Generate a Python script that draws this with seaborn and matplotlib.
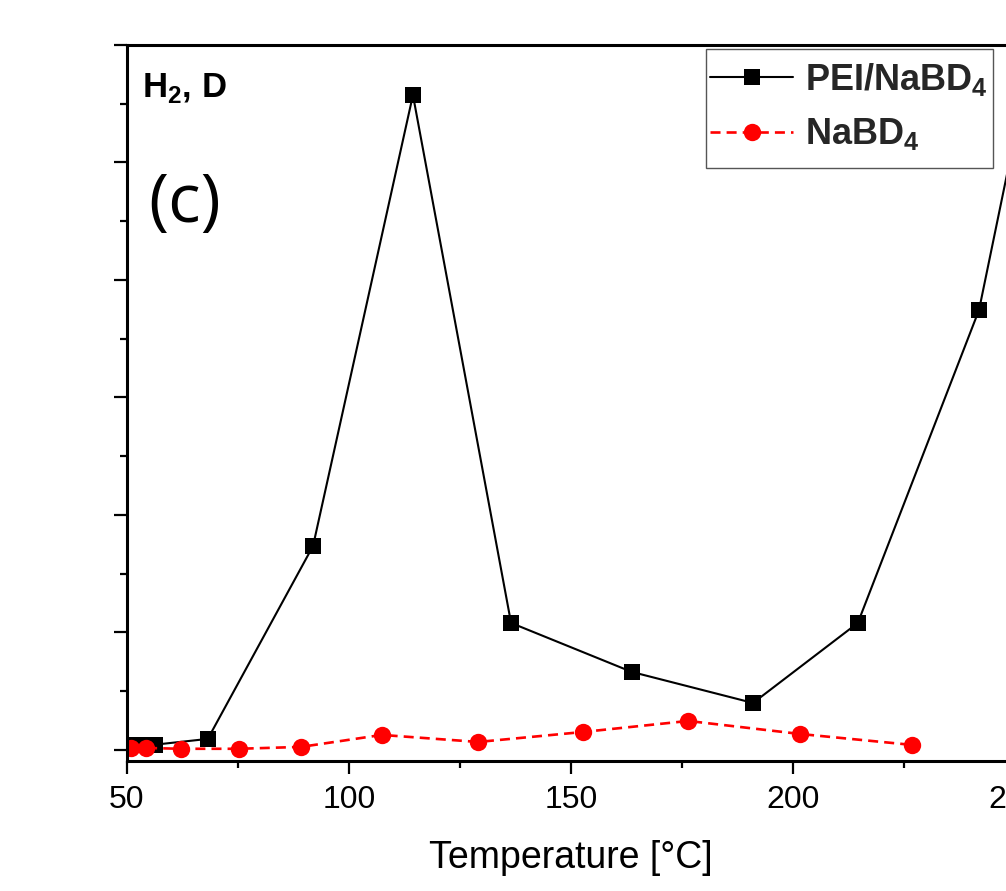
import matplotlib
matplotlib.use("Agg")
import matplotlib.pyplot as plt
from matplotlib.patches import Rectangle
from matplotlib.ticker import MultipleLocator, NullFormatter
import seaborn as sns
import pandas as pd

# Temperature [°C] and relative H2/D signal for each sample
pei_temp = [51.4, 54.0, 56.3, 68.2, 91.9, 114.4, 136.5, 163.7, 191.0, 214.6, 241.9, 262.0]
pei_signal = [0.043, 0.043, 0.045, 0.094, 1.736, 5.574, 1.081, 0.664, 0.400, 1.081, 3.745, 7.43]

nabd_temp = [50.9, 54.3, 62.2, 75.2, 89.2, 107.4, 129.1, 152.7, 176.4, 201.6, 226.8]
nabd_signal = [0.017, 0.017, 0.010, 0.010, 0.026, 0.128, 0.068, 0.153, 0.247, 0.136, 0.043]

x_ticks = [50, 100, 150, 200, 250]

sns.set_theme(style="ticks")
plt.rcParams["font.family"] = ["Liberation Sans", "DejaVu Sans"]
plt.rcParams["mathtext.fontset"] = "custom"
plt.rcParams["mathtext.rm"] = "Liberation Sans:bold"
plt.rcParams["mathtext.bf"] = "Liberation Sans:bold"

W, H = 1006, 891
fig = plt.figure(figsize=(W / 100, H / 100), dpi=100)
ax = fig.add_axes([127 / W, 130 / H, 888 / W, 716 / H])

pei = pd.DataFrame({"T": pei_temp, "S": pei_signal})
nabd = pd.DataFrame({"T": nabd_temp, "S": nabd_signal})

sns.lineplot(data=pei, x="T", y="S", ax=ax, color="black", lw=1.5,
             marker="s", markersize=11.5, markeredgewidth=0,
             label=r"PEI/NaBD$_\mathbf{4}$", sort=False)
sns.lineplot(data=nabd, x="T", y="S", ax=ax, color="#ff0000", lw=1.9,
             linestyle=(0, (3.8, 2.3)), marker="o", markersize=12.5,
             markeredgewidth=0, label=r"NaBD$_\mathbf{4}$", sort=False)

ax.set_xlim(50, 250)
ax.set_ylim(-0.094, 6.0)
ax.set_xticks(x_ticks)
ax.xaxis.set_minor_locator(MultipleLocator(25))
ax.yaxis.set_major_locator(MultipleLocator(1))
ax.yaxis.set_minor_locator(MultipleLocator(0.5))
ax.yaxis.set_major_formatter(NullFormatter())

for side in ["left", "bottom", "top", "right"]:
    ax.spines[side].set_linewidth(2.2)
    ax.spines[side].set_color("black")

ax.tick_params(axis="both", which="major", direction="out", length=9.5,
               width=1.6, color="black", labelsize=23, pad=8)
ax.tick_params(axis="both", which="minor", direction="out", length=5,
               width=1.6, color="black")
ax.tick_params(axis="x", labelcolor="black")

ax.set_xlabel("Temperature [°C]", fontsize=27, labelpad=18, color="black")
ax.set_ylabel("")

# legend entries without their own frame; the box is drawn separately
leg_fs = 26
pad = 0.38
pad_px = pad * leg_fs * 100 / 72
leg = ax.legend(loc="upper left",
                bbox_to_anchor=((710 - pad_px) / W, 1 - 47 / H),
                bbox_transform=fig.transFigure, frameon=False,
                handlelength=2.3, handletextpad=0.33, borderpad=pad,
                labelspacing=0.52, borderaxespad=0,
                prop={"family": "Liberation Sans", "weight": "bold", "size": leg_fs})
fig.patches.append(Rectangle((706 / W, 1 - 168 / H), 287 / W, 119 / H,
                             transform=fig.transFigure, fill=False,
                             edgecolor="#555555", linewidth=1.0, zorder=10))

fig.text(142 / W, 1 - 97 / H, r"H$_\mathbf{2}$, D", fontsize=25,
         fontweight="bold", ha="left", va="baseline", color="black")
fig.text(148 / W, 1 - 204 / H, "(c)", fontsize=49, family="Open Sans",
         ha="left", va="center", color="black")

fig.savefig("out.png", dpi=100)
